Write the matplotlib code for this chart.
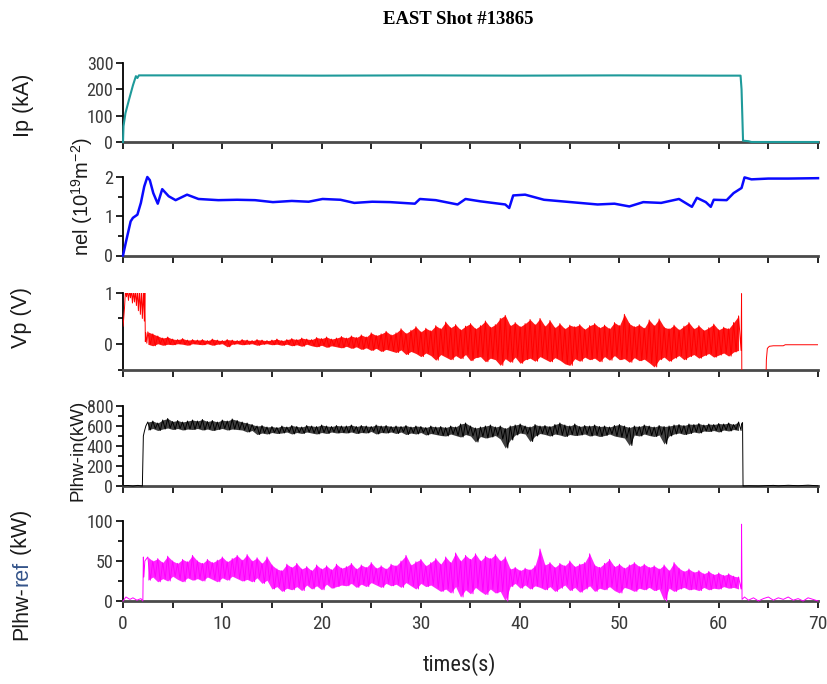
import numpy as np
import matplotlib
matplotlib.use("Agg")
import matplotlib.pyplot as plt
from matplotlib.ticker import MultipleLocator, NullLocator
from matplotlib import font_manager

names = {f.name for f in font_manager.fontManager.ttflist}
NARROW = "Liberation Sans"
for cand in ["Liberation Sans Narrow", "DejaVu Sans Condensed", "Roboto Condensed", "Open Sans Condensed"]:
    if cand in names:
        NARROW = cand
        break
SANS = "Liberation Sans"
SERIF = "Liberation Serif"

# ---------------- data ----------------
# Plasma current Ip (kA)
ip_t = [0, 0.05, 0.25, 0.6, 1.0, 1.3, 1.45, 1.6, 2.0, 10, 20, 30, 40, 50, 60, 62.2, 62.3, 62.45, 63.0, 63.3, 70]
ip_v = [0, 60, 110, 160, 215, 250, 243, 253, 253, 253, 252, 253, 252, 253, 252, 252, 200, 5, 3, 0, 0]

# Line-averaged density nel (1e19 m^-2)
nel_t = [0, 0.3, 0.77, 1.0, 1.45, 1.8, 2.14, 2.45, 2.7, 3.05, 3.5, 3.95, 4.6, 5.3, 6.45, 7.6, 9.6,
         11.5, 13.3, 15.1, 17.0, 18.7, 20.1, 21.9, 23.3, 25.1, 26.9, 29.4, 29.9, 31.5, 33.7, 34.5,
         36.0, 38.5, 38.9, 39.3, 40.5, 42.4, 45.1, 47.8, 49.5, 51.0, 52.4, 54.2, 56.0, 57.3, 57.8,
         58.7, 59.2, 59.5, 60.8, 61.5, 62.3, 62.6, 63.3, 65.0, 67.0, 70.0]
nel_v = [0, 0.35, 0.87, 0.96, 1.04, 1.34, 1.76, 2.0, 1.92, 1.59, 1.32, 1.69, 1.51, 1.41, 1.55, 1.44, 1.41,
         1.42, 1.41, 1.36, 1.39, 1.37, 1.44, 1.42, 1.34, 1.37, 1.36, 1.32, 1.44, 1.41, 1.30, 1.44,
         1.38, 1.30, 1.21, 1.53, 1.55, 1.42, 1.36, 1.30, 1.32, 1.25, 1.36, 1.34, 1.44, 1.24, 1.47,
         1.36, 1.24, 1.42, 1.41, 1.59, 1.72, 1.99, 1.94, 1.96, 1.96, 1.97]

# noisy traces: upper / lower excursions every 0.5 s from t = 2.5 s to 62.0 s
noise_t0, noise_dt, noise_n = 2.5, 0.5, 120

# Vp (V)
vp_early_t = [0.0, 0.05, 0.15, 0.25, 0.35, 0.45, 0.55, 0.65, 0.75, 0.85, 0.95, 1.05, 1.15, 1.25, 1.35,
              1.45, 1.55, 1.65, 1.75, 1.85, 1.95, 2.05, 2.15, 2.2, 2.25, 2.3, 2.4]
vp_early_v = [0.35, 0.45, 0.7, 1.05, 0.92, 1.05, 0.85, 1.05, 0.9, 1.05, 0.8, 1.05, 0.82, 1.05, 0.75,
              1.05, 0.65, 1.05, 0.58, 1.05, 0.5, 1.05, 0.45, 1.05, 0.05, 0.22, 0.02]
vp_hi = [0.24, 0.20, 0.16, 0.12, 0.14, 0.10, 0.09, 0.11, 0.08, 0.09,
         0.08, 0.09, 0.07, 0.10, 0.08, 0.07, 0.09, 0.08, 0.07, 0.09,
         0.08, 0.07, 0.09, 0.08, 0.07, 0.08, 0.10, 0.07, 0.09, 0.11,
         0.09, 0.12, 0.10, 0.09, 0.13, 0.11, 0.14, 0.10, 0.12, 0.15,
         0.12, 0.16, 0.13, 0.18, 0.14, 0.22, 0.17, 0.20, 0.25, 0.18,
         0.22, 0.30, 0.21, 0.27, 0.34, 0.24, 0.31, 0.26, 0.36, 0.30,
         0.43, 0.32, 0.38, 0.28, 0.35, 0.40, 0.30, 0.36, 0.45, 0.33,
         0.38, 0.50, 0.56, 0.36, 0.42, 0.34, 0.40, 0.48, 0.38, 0.50,
         0.35, 0.46, 0.32, 0.40, 0.30, 0.37, 0.34, 0.38, 0.29, 0.36,
         0.40, 0.32, 0.37, 0.30, 0.42, 0.36, 0.58, 0.40, 0.34, 0.38,
         0.31, 0.47, 0.36, 0.49, 0.33, 0.30, 0.37, 0.28, 0.35, 0.42,
         0.30, 0.36, 0.27, 0.32, 0.39, 0.28, 0.33, 0.30, 0.42, 0.55]
vp_lo = [0.00, -0.03, 0.01, -0.02, 0.00, -0.01, 0.01, 0.00, -0.02, 0.01,
         0.00, -0.01, 0.01, -0.02, 0.00, 0.01, -0.05, 0.00, 0.01, -0.01,
         0.00, 0.01, -0.02, 0.00, 0.01, -0.01, 0.00, -0.02, 0.00, -0.03,
         -0.01, -0.04, 0.00, -0.03, -0.05, -0.02, -0.06, -0.03, -0.05, -0.07,
         -0.04, -0.08, -0.05, -0.10, -0.07, -0.12, -0.08, -0.14, -0.10, -0.13,
         -0.16, -0.11, -0.20, -0.14, -0.18, -0.24, -0.17, -0.22, -0.31, -0.20,
         -0.25, -0.30, -0.22, -0.28, -0.20, -0.32, -0.26, -0.24, -0.34, -0.27,
         -0.30, -0.41, -0.28, -0.35, -0.25, -0.37, -0.30, -0.27, -0.33, -0.24,
         -0.29, -0.34, -0.26, -0.31, -0.38, -0.41, -0.28, -0.33, -0.25, -0.30,
         -0.27, -0.34, -0.24, -0.31, -0.22, -0.30, -0.28, -0.35, -0.26, -0.32,
         -0.29, -0.36, -0.44, -0.30, -0.25, -0.33, -0.27, -0.22, -0.30, -0.24,
         -0.20, -0.27, -0.22, -0.18, -0.25, -0.21, -0.17, -0.23, -0.15, -0.12]
vp_late_t = [62.28, 62.3, 62.33, 64.75, 64.8, 64.9, 65.1, 65.5, 66.5, 66.7, 68.0, 70.0]
vp_late_v = [0.55, 0.98, -0.8, -0.8, -0.3, -0.08, -0.04, -0.03, -0.03, -0.01, -0.01, -0.01]

# LHW injected power (kW)
pin_early_t = [0, 0.5, 1.0, 1.5, 1.95, 2.05, 2.15, 2.3]
pin_early_v = [2, 5, 0, 6, 0, 500, 545, 600]
pin_hi = [640, 650, 630, 660, 675, 645, 655, 640, 650, 660,
          650, 665, 645, 655, 640, 660, 650, 670, 655, 640,
          630, 615, 600, 605, 590, 595, 585, 600, 590, 605,
          595, 590, 605, 600, 595, 610, 600, 595, 605, 600,
          600, 610, 595, 605, 600, 595, 610, 600, 605, 595,
          600, 595, 605, 590, 600, 595, 585, 600, 590, 595,
          585, 600, 590, 620, 630, 600, 580, 590, 600, 610,
          590, 600, 575, 600, 610, 620, 600, 590, 615, 600,
          605, 595, 615, 630, 610, 600, 620, 595, 605, 600,
          610, 595, 600, 590, 605, 615, 600, 585, 600, 595,
          610, 600, 590, 605, 595, 600, 610, 615, 605, 620,
          615, 625, 610, 620, 615, 625, 620, 630, 615, 640]
pin_lo = [560, 575, 555, 570, 580, 565, 575, 560, 570, 565,
          575, 560, 570, 555, 565, 575, 560, 570, 565, 560,
          540, 555, 515, 530, 520, 535, 525, 530, 540, 520,
          535, 525, 540, 530, 520, 535, 525, 540, 530, 535,
          530, 540, 525, 535, 530, 545, 520, 535, 530, 540,
          525, 540, 515, 530, 520, 535, 510, 525, 515, 505,
          500, 520, 505, 490, 515, 500, 440, 495, 480, 490,
          505, 470, 380, 460, 510, 530, 520, 445, 500, 525,
          515, 500, 520, 510, 495, 515, 505, 510, 520, 500,
          510, 495, 505, 520, 500, 490, 480, 405, 510, 500,
          520, 505, 495, 510, 420, 500, 520, 530, 515, 525,
          540, 530, 550, 545, 555, 540, 560, 550, 565, 555]
pin_late_t = [62.3, 62.4, 62.45, 63, 64, 65.5, 66, 67, 68, 69, 70]
pin_late_v = [620, 635, 0, 2, 0, 6, 2, 7, 3, 8, 2]

# LHW reflected power (kW)
pref_early_t = [0, 0.3, 0.7, 1.0, 1.4, 1.8, 2.0, 2.05, 2.1, 2.2]
pref_early_v = [0, 5, 2, 4, 1, 3, 0, 55, 30, 50]
pref_hi = [55, 50, 53, 48, 56, 50, 47, 52, 49, 57,
           50, 47, 52, 48, 51, 55, 49, 53, 57, 51,
           58, 50, 54, 47, 55, 45, 40, 38, 46, 42,
           47, 40, 43, 38, 45, 40, 44, 39, 46, 41,
           43, 47, 40, 45, 42, 48, 41, 44, 40, 46,
           44, 50, 57, 45, 49, 52, 44, 48, 53, 46,
           55, 48, 60, 50, 57, 52, 59, 50, 56, 53,
           58, 50, 55, 40, 42, 38, 41, 39, 44, 65,
           45, 48, 42, 47, 44, 50, 43, 46, 48, 59,
           45, 42, 47, 52, 43, 46, 41, 45, 48, 43,
           46, 42, 44, 40, 45, 38, 48, 41, 37, 40,
           36, 38, 34, 37, 33, 35, 32, 34, 31, 30]
pref_lo = [26, 30, 24, 28, 25, 31, 27, 24, 29, 26,
           28, 25, 30, 27, 24, 29, 26, 31, 28, 25,
           27, 24, 29, 22, 26, 15, 18, 12, 16, 14,
           18, 13, 20, 15, 19, 14, 21, 16, 18, 20,
           19, 22, 17, 21, 18, 23, 20, 17, 22, 19,
           21, 17, 23, 19, 15, 22, 18, 20, 16, 12,
           15, 10, 18, 5, 14, 9, 17, 12, 8, 15,
           10, 12, 0, 18, 22, 16, 20, 15, 19, 17,
           14, 18, 12, 16, 20, 13, 17, 11, 15, 19,
           12, 16, 14, 18, 13, 10, 17, 15, 12, 16,
           14, 17, 13, 15, 0, 16, 12, 15, 17, 14,
           15, 13, 17, 14, 16, 15, 18, 16, 17, 15]
pref_late_t = [62.28, 62.3, 62.35, 62.6, 63, 63.5, 64, 64.5, 65, 65.5, 66, 66.5, 67, 67.5, 68,
               68.5, 69, 69.5, 70]
pref_late_v = [25, 96, 2, 5, 1, 4, 0, 3, 5, 1, 4, 2, 5, 1, 3, 0, 4, 2, 0]

title = "EAST Shot #13865"
xlabel = "times(s)"

tn = noise_t0 + noise_dt * np.arange(noise_n)


def trace(early_t, early_v, hi, lo, late_t, late_v):
    zt = np.empty(2 * noise_n)
    zv = np.empty(2 * noise_n)
    zt[0::2] = tn
    zt[1::2] = tn + noise_dt / 2
    zv[0::2] = hi
    zv[1::2] = lo
    return (np.concatenate([early_t, zt, late_t]),
            np.concatenate([early_v, zv, late_v]))


W, H = 828, 684
fig = plt.figure(figsize=(W / 100, H / 100), dpi=100)
left, right = 123, 818
panels = [(63, 142), (177, 255.5), (292.7, 370), (406, 486), (521, 601)]
axes = []
for top, bot in panels:
    ax = fig.add_axes([left / W, 1 - bot / H, (right - left) / W, (bot - top) / H])
    axes.append(ax)

vp_t, vp_v = trace(vp_early_t, vp_early_v, vp_hi, vp_lo, vp_late_t, vp_late_v)
pin_t, pin_v = trace(pin_early_t, pin_early_v, pin_hi, pin_lo, pin_late_t, pin_late_v)
pref_t, pref_v = trace(pref_early_t, pref_early_v, pref_hi, pref_lo, pref_late_t, pref_late_v)

axes[0].plot(ip_t, ip_v, color="#1e9a9a", lw=1.5, clip_on=False, zorder=3)
axes[1].plot(nel_t, nel_v, color="#0a0aff", lw=1.8, clip_on=False, zorder=3)

axes[2].fill_between(tn, vp_hi, vp_lo, color="#ff0000", lw=0, alpha=0.9, zorder=2)
axes[2].plot(vp_t, vp_v, color="#ff0000", lw=0.7, zorder=3)

axes[3].fill_between(tn, pin_hi, pin_lo, color="black", lw=0, alpha=0.75, zorder=2)
axes[3].plot(pin_t, pin_v, color="black", lw=0.7, clip_on=False, zorder=3)

axes[4].fill_between(tn, pref_hi, pref_lo, color="#ff00ff", lw=0, alpha=0.85, zorder=2)
axes[4].plot(pref_t, pref_v, color="#ff00ff", lw=0.7, clip_on=False, zorder=3)

ylims = [(0, 300), (0, 2), (-0.5, 1), (0, 800), (0, 100)]
ymaj = [100, 1, 1, 200, 50]
ymin = [None, 0.5, 0.5, 100, 25]

tick_color = "#3a3a3a"
for i, ax in enumerate(axes):
    ax.set_xlim(0, 70)
    ax.set_ylim(*ylims[i])
    for s in ("top", "right"):
        ax.spines[s].set_visible(False)
    ax.spines["left"].set_color("black")
    ax.spines["left"].set_linewidth(1.3)
    ax.spines["bottom"].set_color("#4a4a4a")
    ax.spines["bottom"].set_linewidth(2.0)
    ax.xaxis.set_major_locator(MultipleLocator(10))
    ax.xaxis.set_minor_locator(MultipleLocator(5))
    ax.yaxis.set_major_locator(MultipleLocator(ymaj[i]))
    if ymin[i]:
        ax.yaxis.set_minor_locator(MultipleLocator(ymin[i]))
    else:
        ax.yaxis.set_minor_locator(NullLocator())
    ax.tick_params(axis="both", which="major", direction="out", length=5, width=1.2,
                   color="black", labelcolor=tick_color, labelsize=13)
    ax.tick_params(axis="both", which="minor", direction="out", length=5, width=1.2, color="black")
    ax.tick_params(axis="y", which="minor", length=3.5)
    ax.tick_params(axis="y", pad=2)
    for lab in ax.get_yticklabels() + ax.get_xticklabels():
        lab.set_fontfamily(NARROW)
    if i < 4:
        ax.tick_params(axis="x", labelbottom=False)
    ax.set_facecolor("none")

axes[4].tick_params(axis="x", pad=5, labelsize=14)

fig.text(458 / W, 1 - 19 / H, title, ha="center", va="center", fontsize=13.5,
         fontweight="bold", family=SERIF)
fig.text(460 / W, 1 - 665 / H, xlabel, ha="center", va="center", fontsize=16,
         family=NARROW, color="#222222")

lab_kw = dict(rotation=90, ha="center", va="center", family=SANS, color="#1a1a1a")
fig.text(24 / W, 1 - 105 / H, "Ip (kA)", fontsize=15.5, **lab_kw)
fig.text(82 / W, 1 - 197 / H, r"nel (10$^{\mathregular{19}}$m$^{\mathregular{-2}}$)", fontsize=14.5, **lab_kw)
fig.text(22 / W, 1 - 318 / H, "Vp (V)", fontsize=15.5, **lab_kw)
fig.text(78 / W, 1 - 450 / H, "Plhw-in(kW)", fontsize=13.5, **lab_kw)

# Plhw-ref (kW) with 'ref' highlighted as in the reference
fig.canvas.draw()
rend = fig.canvas.get_renderer()
y_px = H - 640
pieces = [("Plhw-", "#1a1a1a"), ("ref", "#34548a"), (" (kW)", "#1a1a1a")]
for txt, col in pieces:
    t = fig.text(22 / W, y_px / H, txt, rotation=90, ha="center", va="bottom",
                 family=SANS, fontsize=15.5, color=col)
    ext = t.get_window_extent(renderer=rend)
    y_px = ext.y1

fig.savefig("out.png", dpi=100)
